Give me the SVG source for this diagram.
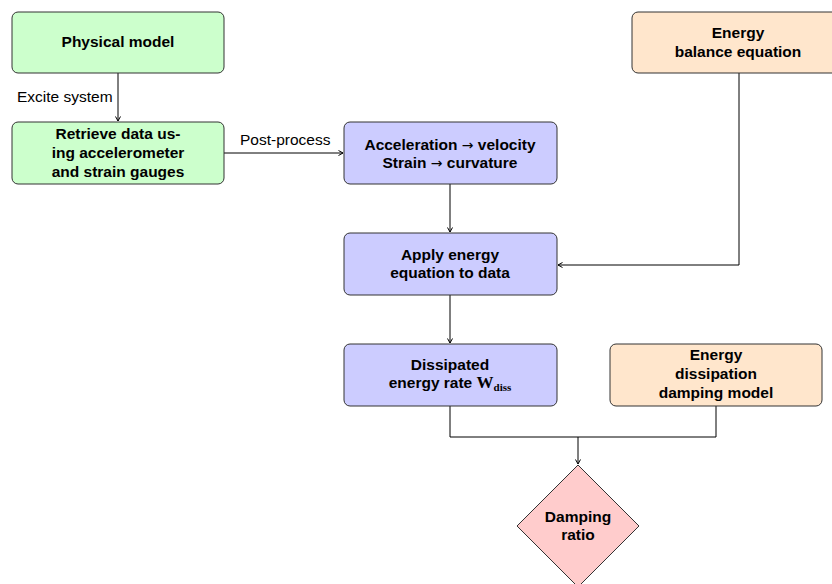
<svg xmlns="http://www.w3.org/2000/svg" width="832" height="584" viewBox="0 0 832 584">
<defs>
<marker id="arr" markerWidth="8" markerHeight="8" refX="6" refY="4" orient="auto" markerUnits="userSpaceOnUse">
<path d="M1.5,1.5 L6,4 L1.5,6.5" fill="none" stroke="#000" stroke-width="1"/>
</marker>
<style>
.box{stroke:#333;stroke-width:1}
.g{fill:#ccffcc}
.b{fill:#ccccff}
.o{fill:#ffe6cc}
.r{fill:#ffcccc}
.t{font-family:"Liberation Sans",Arial,sans-serif;font-size:15.5px;font-weight:bold;fill:#000;text-anchor:middle}
.l{font-family:"Liberation Sans",Arial,sans-serif;font-size:15.5px;fill:#000}
.c{fill:none;stroke:#000;stroke-width:1}
.ar{font-family:"DejaVu Sans",sans-serif;font-size:14px;font-weight:normal}
</style>
</defs>
<rect width="832" height="584" fill="#fff"/>
<g id="connectors">
<path class="c" d="M118,73 V121" marker-end="url(#arr)"/>
<text class="l" x="17" y="102">Excite system</text>
<path class="c" d="M224,153 H343" marker-end="url(#arr)"/>
<text class="l" x="240" y="145">Post-process</text>
<path class="c" d="M450,184 V232" marker-end="url(#arr)"/>
<path class="c" d="M739,73 V265 H558" marker-end="url(#arr)"/>
<path class="c" d="M450,295 V343" marker-end="url(#arr)"/>
<path class="c" d="M450,406 V437 H716 V406"/>
<path class="c" d="M578,437 V464" marker-end="url(#arr)"/>
</g>
<g id="physical-model">
<rect class="box g" x="12" y="12" width="212" height="61" rx="6"/>
<text class="t" x="118" y="47">Physical model</text>
</g>
<g id="retrieve-data">
<rect class="box g" x="12" y="122" width="212" height="62" rx="6"/>
<text class="t" x="118" y="139">Retrieve data us-</text>
<text class="t" x="118" y="158">ing accelerometer</text>
<text class="t" x="118" y="177">and strain gauges</text>
</g>
<g id="convert">
<rect class="box b" x="344" y="122" width="213" height="62" rx="6"/>
<text class="t" x="450" y="150">Acceleration <tspan class="ar">→</tspan> velocity</text>
<text class="t" x="450" y="168">Strain <tspan class="ar">→</tspan> curvature</text>
</g>
<g id="apply-energy">
<rect class="box b" x="344" y="233" width="213" height="62" rx="6"/>
<text class="t" x="450" y="260">Apply energy</text>
<text class="t" x="450" y="278">equation to data</text>
</g>
<g id="energy-balance">
<rect class="box o" x="632" y="12" width="212" height="61" rx="6"/>
<text class="t" x="738" y="38">Energy</text>
<text class="t" x="738" y="57">balance equation</text>
</g>
<g id="dissipated">
<rect class="box b" x="344" y="344" width="213" height="62" rx="6"/>
<text class="t" x="450" y="370">Dissipated</text>
<text class="t" x="450" y="388">energy rate <tspan font-family="'Liberation Serif',serif" font-size="17">W</tspan><tspan font-family="'Liberation Serif',serif" font-size="11" dy="3">diss</tspan></text>
</g>
<g id="damping-model">
<rect class="box o" x="610" y="344" width="212" height="62" rx="6"/>
<text class="t" x="716" y="360">Energy</text>
<text class="t" x="716" y="379">dissipation</text>
<text class="t" x="716" y="398">damping model</text>
</g>
<g id="damping-ratio">
<polygon class="box r" points="578,465 639,526 578,587 517,526"/>
<text class="t" x="578" y="522">Damping</text>
<text class="t" x="578" y="540">ratio</text>
</g>
</svg>
